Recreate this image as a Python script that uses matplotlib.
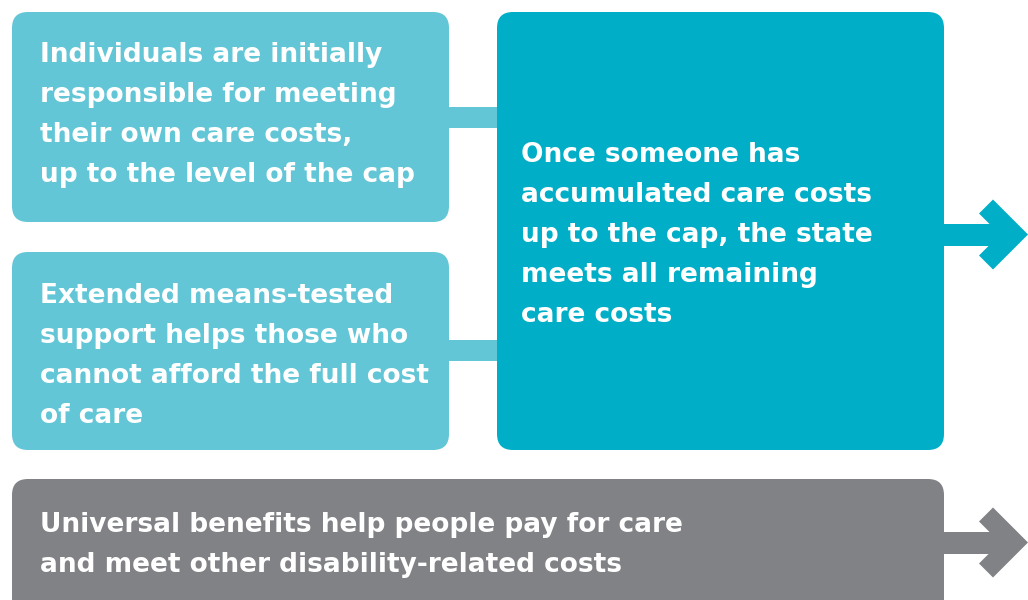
import matplotlib
matplotlib.use("Agg")
import matplotlib.pyplot as plt
from matplotlib.patches import FancyBboxPatch, Polygon, Rectangle

LIGHT = "#62c6d6"
DARK = "#00afc7"
GREY = "#808285"

box1_lines = ["Individuals are initially", "responsible for meeting",
              "their own care costs,", "up to the level of the cap"]
box2_lines = ["Extended means-tested", "support helps those who",
              "cannot afford the full cost", "of care"]
box3_lines = ["Once someone has", "accumulated care costs",
              "up to the cap, the state", "meets all remaining", "care costs"]
box4_lines = ["Universal benefits help people pay for care",
              "and meet other disability-related costs"]


def rbox(ax, x0, y0, x1, y1, color, r=16):
    ax.add_patch(FancyBboxPatch((x0 + r, y0 + r), x1 - x0 - 2 * r, y1 - y0 - 2 * r,
                                boxstyle="round,pad=%d" % r, fc=color, ec="none"))


def arrow(ax, x0, yc, color, half=11):
    ax.add_patch(Rectangle((x0, yc - half), 1000 - x0, 2 * half, fc=color, ec="none"))
    ax.add_patch(Polygon([(993, yc - 35), (1028, yc), (993, yc + 35),
                          (979, yc + 21), (1000, yc), (979, yc - 21)],
                         closed=True, fc=color, ec="none"))


def lines(ax, x, y, txt):
    for i, t in enumerate(txt):
        ax.text(x, y + 40 * i, t, color="white", fontsize=19.0, fontweight="bold",
                family="DejaVu Sans", va="baseline", ha="left")


fig = plt.figure(figsize=(10.28, 6), dpi=100)
ax = fig.add_axes([0, 0, 1, 1])
ax.set_xlim(0, 1028)
ax.set_ylim(600, 0)
ax.axis("off")

# connectors
ax.add_patch(Rectangle((440, 107), 70, 21, fc=LIGHT, ec="none"))
ax.add_patch(Rectangle((440, 340), 70, 21, fc=LIGHT, ec="none"))

rbox(ax, 12, 12, 449, 222, LIGHT)
rbox(ax, 12, 252, 449, 450, LIGHT)
rbox(ax, 497, 12, 944, 450, DARK)
rbox(ax, 12, 479, 944, 640, GREY)

arrow(ax, 930, 234.5, DARK)
arrow(ax, 930, 542.5, GREY)

lines(ax, 40, 62.5, box1_lines)
lines(ax, 40, 303, box2_lines)
lines(ax, 521, 162.5, box3_lines)
lines(ax, 40, 532, box4_lines)

fig.savefig("out.png", dpi=100)
